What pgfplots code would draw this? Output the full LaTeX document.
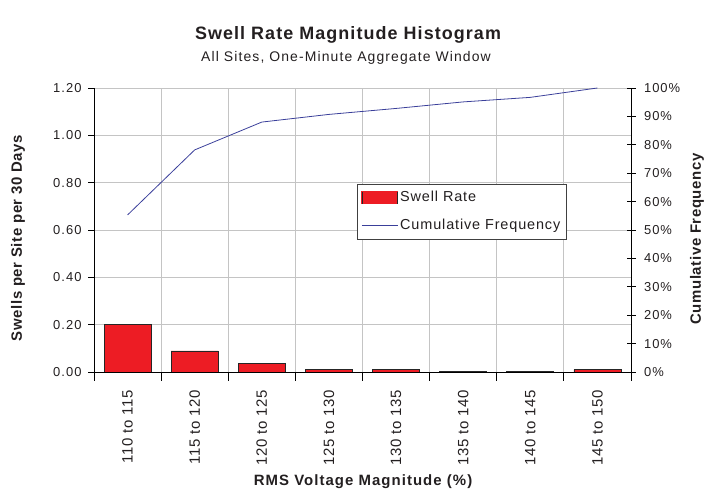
\documentclass[border=0pt]{standalone}
\usepackage{fontspec}
\setmainfont{Liberation Sans}
\newfontfamily\fA[LetterSpace=6]{Liberation Sans}
\newfontfamily\fB[LetterSpace=8]{Liberation Sans}
\newfontfamily\fC[LetterSpace=4]{Liberation Sans}
\newfontfamily\fD[LetterSpace=7]{Liberation Sans}
\usepackage{pgfplots}
\pgfplotsset{compat=1.18}
\definecolor{barred}{HTML}{ED1C24}
\definecolor{linenavy}{HTML}{3A3F9A}
\definecolor{gridgray}{HTML}{C4C4C4}
\definecolor{txt}{HTML}{231F20}
\begin{document}
\begin{tikzpicture}[x=1bp,y=1bp]
\useasboundingbox (0,0) rectangle (711,502);
\node[font=\fA\bfseries\fontsize{18}{20}\selectfont,text=txt] at (348,467) {Swell Rate Magnitude Histogram};
\node[font=\fB\fontsize{14}{16}\selectfont,text=txt] at (346,444) {All Sites, One-Minute Aggregate Window};
\node[font=\fD\bfseries\fontsize{15}{17}\selectfont,text=txt] at (363,20) {RMS Voltage Magnitude (\%)};
\node[font=\fC\bfseries\fontsize{15}{17}\selectfont,text=txt,rotate=90] at (18,264) {Swells per Site per 30 Days};
\node[font=\fC\bfseries\fontsize{15}{17}\selectfont,text=txt,rotate=90] at (697,263) {Cumulative Frequency};
\begin{axis}[
  at={(94bp,130bp)}, anchor=south west,
  scale only axis, width=537bp, height=284bp,
  xmin=-0.5, xmax=7.5, ymin=0, ymax=1.2,
  axis x line*=bottom, axis y line*=left,
  axis line style={black, line width=0.8pt},
  xtick={0,...,7},
  xticklabels={110 to 115,115 to 120,120 to 125,125 to 130,130 to 135,135 to 140,140 to 145,145 to 150},
  x tick label style={rotate=90, anchor=east, font=\fC\fontsize{15}{17}\selectfont, text=txt, xshift=-9bp},
  major x tick style={draw=none},
  minor xtick={-0.5,0.5,...,7.5},
  xminorgrids, minor x grid style={gridgray, line width=0.8pt},
  minor tick length=9bp,
  ytick={0,0.2,...,1.21},
  y tick label style={/pgf/number format/fixed, /pgf/number format/fixed zerofill, /pgf/number format/precision=2, /pgf/number format/assume math mode=true, font=\fB\fontsize{13}{15}\selectfont, text=txt, xshift=-3bp},
  ymajorgrids, major y grid style={gridgray, line width=0.8pt},
  major tick length=6bp,
  tick style={black, line width=0.8pt},
  xtick align=center, ytick align=outside,
  ybar, bar width=47bp,
]
\addplot[fill=barred, draw=black!85, line width=0.7pt] coordinates {
 (0,0.200) (1,0.089) (2,0.037) (3,0.010) (4,0.010) (5,0.003) (6,0.003) (7,0.010)};
\end{axis}
\begin{axis}[
  at={(94bp,130bp)}, anchor=south west,
  scale only axis, width=537bp, height=284bp,
  xmin=-0.5, xmax=7.5, ymin=0, ymax=100,
  axis x line=none, axis y line*=right,
  axis line style={black, line width=0.8pt},
  ytick={0,10,...,100},
  yticklabel={\pgfmathprintnumber[assume math mode=true]{\tick}\%},
  y tick label style={font=\fB\fontsize{13}{15}\selectfont, text=txt, xshift=5bp},
  tick style={black, line width=0.8pt},
  major tick length=9bp,
  ytick align=center,
  legend style={at={(0.4898,0.662)}, anchor=north west, draw=black!75, line width=0.7pt, fill=white,
     font=\fA\fontsize{14.5}{16}\selectfont, text=txt, row sep=11bp, inner xsep=4bp, inner ysep=5bp,
     nodes={text height=10bp, text depth=3bp, inner xsep=2bp},
     /tikz/every even column/.append style={column sep=0bp}},
  legend cell align=left,
]
\addlegendimage{legend image code/.code={\fill[barred] (0bp,-6bp) rectangle (36bp,6bp);
   \draw[black!85, line width=1.4pt] (0.7bp,-6bp) -- (0.7bp,6bp); \draw[black!85, line width=0.7pt] (35.6bp,-6bp) -- (35.6bp,6bp);}}
\addlegendentry{Swell Rate}
\addlegendimage{legend image code/.code={\draw[linenavy, line width=0.8pt] (0bp,0bp) -- (36bp,0bp);}}
\addlegendentry{Cumulative Frequency\hspace{7bp}}
\addplot[linenavy, line width=0.8pt, mark=none, forget plot] coordinates {
 (0,55.3) (1,78.2) (2,88.0) (3,90.7) (4,92.8) (5,95.1) (6,96.7) (7,100)};
\end{axis}
\end{tikzpicture}
\end{document}
